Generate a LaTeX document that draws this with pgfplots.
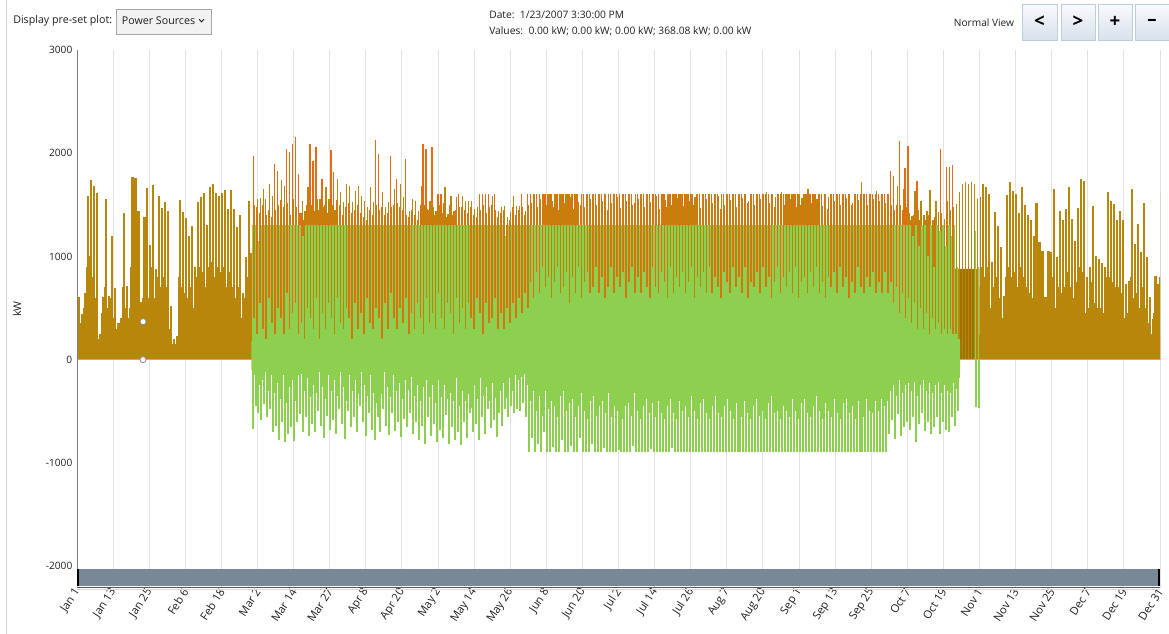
\documentclass[border=0pt]{standalone}
\usepackage{fontspec}
\setmainfont{Open Sans}
\usepackage{pgfplots}
\usepackage{pgfplotstable}
\pgfplotsset{compat=1.18}
\definecolor{brn}{RGB}{184,134,11}
\definecolor{org}{RGB}{234,106,18}
\definecolor{orgb}{RGB}{212,118,14}
\definecolor{grn}{RGB}{141,208,80}
\definecolor{dkb}{RGB}{160,112,0}
\definecolor{gridc}{RGB}{226,226,226}
\definecolor{sbar}{RGB}{120,136,151}
\definecolor{btnb}{RGB}{190,205,222}
\definecolor{txt}{RGB}{30,30,30}

% Winter (Jan-Feb): daily peak B and secondary level B2 (kW)
\pgfplotstableread{
d B B2
0 605 400
1 443 350
2 647 500
3 1582 900
4 1738 1000
5 1683 800
6 1615 600
7 250 200
8 610 450
9 1553 700
10 620 500
11 1200 600
12 690 400
13 350 300
14 400 350
15 1420 700
16 710 500
17 500 400
18 1770 900
19 1760 850
20 1440 700
21 560 400
22 1380 600
23 1660 800
24 1110 600
25 1690 900
26 880 600
27 1590 800
28 1470 700
29 1530 800
30 1440 700
31 520 300
32 200 150
33 230 150
34 1550 800
35 1430 700
36 1370 650
37 1200 600
38 1290 700
39 900 500
40 1530 800
41 1580 900
42 1610 850
43 1300 700
44 1670 900
45 1700 950
46 1615 800
47 1590 900
48 1610 850
49 1640 900
50 1460 700
51 1640 850
52 1460 700
53 1280 600
54 1400 700
55 650 400
56 990 600
57 1540 800
58 1030 600
}\winterA

% Winter (Nov-Dec)
\pgfplotstableread{
d B B2
304 1702 900
305 1670 800
306 1600 900
307 943 500
308 1427 700
309 1298 800
310 1088 600
311 620 400
312 1599 800
313 1718 900
314 1637 800
315 1600 850
316 1420 700
317 1670 900
318 1500 800
319 1400 700
320 1350 650
321 1200 600
322 1520 750
323 1140 600
324 1056 500
325 604 350
326 1050 550
327 1040 600
328 1654 800
329 992 500
330 1440 700
331 1350 650
332 1460 700
333 1670 850
334 1360 700
335 1153 600
336 1470 750
337 1750 900
338 1734 850
339 800 450
340 895 500
341 1492 750
342 1000 550
343 970 500
344 940 500
345 895 450
346 1621 800
347 1540 800
348 1510 750
349 1350 700
350 1440 700
351 1350 650
352 733 400
353 760 450
354 1654 800
355 1120 600
356 1310 650
357 1040 500
358 1515 700
359 992 500
360 610 350
361 394 250
362 814 450
363 730 400
364 1621 800
}\winterB

% Mar-Oct: orange peak O, brown peak B, green positive Gp, green negative Gn (kW)
\pgfplotstableread{
d O B Gp Gn
59 1977 1500 1300 -672
60 1480 1560 1300 -450
61 1420 1570 1150 -520
62 1500 1654 1300 -590
63 1557 1400 1300 -430
64 1450 1702 1300 -560
65 1380 1590 1300 -480
66 1896 1450 1300 -700
67 1831 1500 1300 -640
68 1550 1742 1300 -780
69 1480 1686 1300 -600
70 2041 1520 1300 -800
71 2009 1400 1300 -720
72 2090 1560 1300 -650
73 2154 1480 1300 -790
74 1799 1420 1300 -600
75 1420 1540 1300 -530
76 1350 1444 1200 -700
77 1500 1670 1300 -560
78 2090 1500 1300 -740
79 1928 1440 1300 -620
80 2064 1560 1300 -700
81 1450 1557 1300 -500
82 1750 1480 1300 -640
83 1500 1670 1300 -760
84 1420 1557 1300 -550
85 2032 1500 1300 -680
86 1815 1450 1300 -590
87 1550 1750 1300 -720
88 1500 1621 1300 -480
89 1400 1525 1300 -620
90 1480 1702 1300 -770
91 1520 1686 1300 -500
92 1420 1525 1300 -650
93 1450 1637 1300 -560
94 1500 1686 1300 -700
95 1420 1590 1300 -450
96 1380 1540 1300 -600
97 1350 1476 1300 -740
98 1450 1670 1300 -520
99 1400 1525 1300 -680
100 2132 1500 1300 -780
101 1993 1450 1300 -560
102 1480 1621 1300 -700
103 1400 1476 1300 -480
104 1420 1525 1300 -640
105 1977 1480 1300 -730
106 1500 1654 1300 -520
107 1750 1520 1300 -690
108 1480 1702 1300 -600
109 1450 1573 1300 -750
110 1945 1400 1300 -580
111 1380 1444 1300 -650
112 1450 1557 1300 -520
113 1400 1540 1300 -720
114 1350 1444 1300 -600
115 1500 1686 1300 -780
116 2090 1500 1300 -640
117 2041 1460 1300 -820
118 1450 1540 1300 -560
119 2058 1480 1300 -740
120 1400 1444 1300 -620
121 1605 1500 1300 -800
122 1605 1420 1300 -680
123 1520 1670 1300 -760
124 1380 1412 1300 -540
125 1500 1590 1300 -820
126 1400 1444 1300 -650
127 1450 1573 1300 -780
128 1605 1480 1300 -700
129 1480 1590 1300 -830
130 1450 1540 1300 -600
131 1420 1540 1300 -760
132 1480 1540 1300 -520
133 1400 1460 1300 -700
134 1380 1476 1300 -620
135 1605 1450 1300 -780
136 1605 1500 1300 -560
137 1605 1420 1300 -720
138 1605 1480 1300 -480
139 1500 1590 1300 -660
140 1605 1450 1300 -590
141 1380 1444 1300 -750
142 1420 1476 1300 -520
143 1450 1492 1300 -640
144 1300 1380 1200 -480
145 1350 1428 1300 -560
146 1480 1590 1300 -450
147 1400 1492 1300 -520
148 1450 1492 1300 -480
149 1605 1476 1300 -500
150 1400 1444 1300 -420
151 1605 1500 1300 -560
152 1605 1520 1300 -898
153 1605 1605 1300 -760
154 1605 1480 1300 -898
155 1605 1560 1300 -820
156 1605 1605 1300 -898
157 1605 1500 1300 -700
158 1605 1605 1300 -898
159 1605 1540 1300 -898
160 1480 1605 1300 -850
161 1605 1450 1300 -898
162 1605 1605 1300 -898
163 1605 1520 1300 -780
164 1605 1605 1300 -898
165 1605 1580 1300 -898
166 1605 1460 1300 -840
167 1605 1605 1300 -898
168 1605 1530 1300 -898
169 1500 1605 1300 -760
170 1605 1480 1300 -898
171 1605 1605 1300 -898
172 1605 1560 1300 -898
173 1605 1605 1300 -820
174 1605 1500 1300 -898
175 1605 1605 1300 -898
176 1605 1540 1300 -898
177 1605 1605 1300 -860
178 1450 1605 1300 -898
179 1605 1520 1300 -898
180 1605 1605 1300 -898
181 1605 1580 1300 -898
182 1605 1470 1300 -880
183 1605 1605 1300 -898
184 1605 1540 1300 -898
185 1605 1605 1300 -898
186 1605 1500 1300 -898
187 1520 1605 1300 -840
188 1605 1560 1300 -898
189 1605 1605 1300 -898
190 1605 1480 1300 -898
191 1605 1605 1300 -898
192 1605 1530 1300 -898
193 1605 1605 1300 -870
194 1605 1590 1300 -898
195 1605 1460 1300 -898
196 1605 1605 1300 -898
197 1605 1550 1300 -898
198 1480 1605 1300 -898
199 1605 1500 1300 -898
200 1605 1605 1300 -860
201 1605 1570 1300 -898
202 1605 1605 1300 -898
203 1605 1490 1300 -898
204 1605 1605 1300 -898
205 1605 1540 1300 -898
206 1605 1605 1300 -898
207 1500 1580 1300 -898
208 1605 1605 1300 -898
209 1605 1470 1300 -898
210 1605 1605 1300 -898
211 1605 1560 1300 -898
212 1605 1605 1300 -898
213 1605 1520 1300 -898
214 1605 1605 1300 -898
215 1605 1590 1300 -898
216 1460 1605 1300 -898
217 1605 1500 1300 -898
218 1605 1605 1300 -898
219 1605 1550 1300 -898
220 1605 1605 1300 -898
221 1605 1480 1300 -898
222 1605 1605 1300 -898
223 1605 1570 1300 -898
224 1605 1605 1300 -898
225 1520 1540 1300 -898
226 1605 1605 1300 -898
227 1605 1500 1300 -898
228 1605 1605 1300 -898
229 1605 1560 1300 -898
230 1605 1605 1300 -898
231 1605 1620 1300 -898
232 1605 1520 1300 -898
233 1605 1605 1300 -898
234 1480 1580 1300 -898
235 1605 1605 1300 -898
236 1605 1625 1300 -898
237 1605 1500 1300 -898
238 1605 1605 1300 -898
239 1605 1560 1300 -898
240 1605 1605 1300 -898
241 1605 1480 1300 -898
242 1605 1605 1300 -898
243 1500 1570 1300 -898
244 1605 1605 1300 -898
245 1605 1654 1300 -898
246 1605 1520 1300 -898
247 1605 1605 1300 -898
248 1605 1560 1300 -898
249 1605 1605 1300 -898
250 1605 1490 1300 -898
251 1605 1605 1300 -898
252 1460 1580 1300 -898
253 1605 1605 1300 -898
254 1605 1540 1300 -898
255 1605 1605 1300 -898
256 1605 1500 1300 -898
257 1605 1605 1300 -898
258 1605 1570 1300 -898
259 1605 1605 1300 -898
260 1500 1520 1300 -898
261 1605 1605 1300 -898
262 1605 1550 1300 -898
263 1605 1718 1300 -898
264 1605 1605 1300 -898
265 1605 1500 1300 -898
266 1605 1605 1300 -898
267 1605 1560 1300 -898
268 1605 1631 1300 -898
269 1605 1540 1300 -898
270 1605 1605 1300 -898
271 1605 1520 1300 -898
272 1605 1605 1300 -898
273 1831 1500 1300 -720
274 1783 1450 1300 -590
275 1500 1686 1300 -770
276 2122 1500 1300 -526
277 1450 1650 1300 -736
278 1854 1480 1300 -650
279 2067 1420 1300 -600
280 1350 1395 1300 -680
281 1400 1630 1200 -560
282 1734 1450 1300 -800
283 1350 1540 1100 -620
284 1300 1400 1300 -520
285 1350 1444 1300 -688
286 1400 1640 1000 -600
287 1300 1350 1300 -720
288 1380 1540 900 -650
289 1300 1430 1300 -560
290 2041 1420 1250 -720
291 1300 1363 1300 -600
292 1864 1540 1100 -680
293 1870 1450 1300 -704
294 1889 1480 1200 -560
295 0 1508 1300 -640
296 0 1621 900 -500
297 0 1702 0 0
298 0 1718 0 0
299 0 1700 0 0
300 0 1725 0 0
301 0 1700 0 0
302 0 1560 1250 -462
303 0 1580 900 -470
}\summer

% Green secondary (within-day) levels: positive Gm, negative Gk (kW)
\pgfplotstableread{
d Gm Gk
59 400 -150
60 250 -120
61 550 -250
62 300 -200
63 200 -120
64 600 -300
65 350 -150
66 250 -320
67 500 -230
68 400 -380
69 250 -150
70 650 -420
71 300 -270
72 450 -200
73 550 -400
74 250 -150
75 350 -140
76 200 -300
77 500 -180
78 400 -360
79 300 -250
80 600 -320
81 200 -120
82 450 -270
83 300 -380
84 550 -150
85 400 -300
86 250 -200
87 600 -350
88 350 -120
89 300 -270
90 500 -400
91 400 -150
92 200 -300
93 550 -200
94 300 -330
95 450 -120
96 250 -250
97 600 -350
98 350 -150
99 300 -320
100 500 -420
101 400 -200
102 200 -330
103 550 -120
104 300 -270
105 650 -360
106 400 -150
107 300 -300
108 500 -230
109 350 -380
110 600 -200
111 250 -290
112 450 -170
113 300 -350
114 550 -250
115 400 -400
116 250 -270
117 600 -200
118 350 -360
119 450 -250
120 300 -420
121 650 -200
122 400 -360
123 300 -250
124 550 -380
125 450 -320
126 250 -400
127 600 -180
128 350 -450
129 500 -300
130 300 -400
131 550 -330
132 400 -470
133 300 -250
134 600 -380
135 450 -180
136 250 -350
137 550 -270
138 350 -400
139 400 -230
140 600 -370
141 300 -150
142 450 -300
143 300 -230
144 500 -370
145 350 -180
146 550 -300
147 400 -150
148 600 -200
149 450 -170
150 650 -140
151 500 -250
152 750 -400
153 600 -300
154 850 -500
155 650 -350
156 900 -550
157 700 -300
158 800 -480
159 600 -400
160 750 -450
161 900 -560
162 650 -350
163 700 -300
164 850 -500
165 550 -420
166 800 -380
167 650 -560
168 900 -450
169 600 -320
170 750 -500
171 850 -580
172 650 -400
173 700 -350
174 900 -550
175 650 -450
176 800 -400
177 600 -520
178 700 -320
179 900 -560
180 650 -450
181 800 -500
182 700 -350
183 850 -580
184 600 -450
185 750 -420
186 900 -550
187 650 -320
188 800 -500
189 650 -580
190 850 -450
191 700 -380
192 600 -520
193 900 -420
194 700 -560
195 650 -400
196 850 -520
197 750 -580
198 600 -450
199 900 -380
200 650 -520
201 800 -580
202 700 -400
203 850 -500
204 650 -450
205 750 -560
206 900 -350
207 600 -500
208 800 -580
209 700 -420
210 850 -380
211 650 -520
212 900 -580
213 650 -450
214 800 -350
215 700 -520
216 600 -560
217 850 -450
218 750 -380
219 650 -500
220 900 -580
221 700 -420
222 800 -500
223 650 -560
224 900 -400
225 600 -520
226 750 -580
227 700 -450
228 850 -380
229 650 -550
230 900 -500
231 700 -580
232 800 -420
233 600 -350
234 750 -520
235 900 -500
236 650 -580
237 800 -450
238 700 -500
239 850 -560
240 650 -380
241 900 -500
242 600 -580
243 750 -420
244 800 -380
245 650 -520
246 850 -560
247 700 -450
248 900 -350
249 650 -500
250 750 -580
251 600 -420
252 800 -500
253 700 -560
254 850 -380
255 650 -520
256 900 -580
257 700 -420
258 800 -380
259 600 -520
260 750 -450
261 650 -580
262 900 -400
263 700 -500
264 650 -560
265 800 -380
266 700 -500
267 850 -520
268 650 -400
269 750 -500
270 650 -380
271 850 -450
272 650 -400
273 750 -300
274 550 -250
275 700 -350
276 450 -200
277 650 -320
278 400 -250
279 600 -230
280 350 -300
281 550 -220
282 300 -350
283 500 -250
284 300 -200
285 450 -300
286 250 -230
287 400 -320
288 300 -250
289 350 -220
290 250 -320
291 300 -250
292 250 -300
293 300 -320
294 250 -230
295 250 -280
296 200 -180
}\greenmid

% Solid (dense) levels of the series
\pgfplotstableread{
x y
0 0
0 290
3 290
3.3 240
6.8 240
7.2 90
8.6 90
9 250
31 250
31.4 110
33.6 110
34 260
58.6 260
58.7 850
65 900
72 800
80 900
90 820
100 880
110 800
120 850
135 900
145 880
150 950
155 1000
265 1000
275 950
290 900
296 880
303.3 880
303.4 240
364 240
364 0
}\brownbody

\pgfplotstableread{
x y
58.6 0
58.6 1000
100 1050
150 1100
154 1300
268 1300
275 1100
294.5 1000
294.5 0
}\orangebody

\pgfplotstableread{
x y
296.3 0
296.3 880
302 880
302 0
}\darkblock

\pgfplotstableread{
x y
58.6 0
58.6 180
100 200
150 250
155 500
265 500
275 300
296.8 180
296.8 0
}\greenpos

\pgfplotstableread{
x y
58.6 0
58.6 -100
150 -110
155 -200
265 -200
275 -130
296.8 -100
296.8 0
}\greenneg

\begin{document}
\begin{tikzpicture}[x=1pt,y=1pt]
\path[use as bounding box] (-57.75,-34.5) rectangle (819,441);
\begin{axis}[
  scale only axis, width=812.25pt, height=403.5pt,
  xmin=0, xmax=364, ymin=-2213, ymax=3000,
  axis x line=bottom, axis y line=left,
  axis line style={draw=none},
  major tick length=0pt,
  xmajorgrids=true,
  major grid style={gridc, line width=0.75pt},
  xtick={0,12.1333,24.2667,36.4,48.5333,60.6667,72.8,84.9333,97.0667,109.2,121.3333,133.4667,145.6,157.7333,169.8667,182,194.1333,206.2667,218.4,230.5333,242.6667,254.8,266.9333,279.0667,291.2,303.3333,315.4667,327.6,339.7333,351.8667,364},
  xticklabels={Jan 1,Jan 13,Jan 25,Feb 6,Feb 18,Mar 2,Mar 14,Mar 27,Apr 8,Apr 20,May 2,May 14,May 26,Jun 8,Jun 20,Jul 2,Jul 14,Jul 26,Aug 7,Aug 20,Sep 1,Sep 13,Sep 25,Oct 7,Oct 19,Nov 1,Nov 13,Nov 25,Dec 7,Dec 19,Dec 31},
  xticklabel style={rotate=57, anchor=east, font=\fontsize{8.4}{10}\selectfont, text=txt, xshift=2.5pt, yshift=-1pt},
  ytick={-2000,-1000,0,1000,2000,3000},
  yticklabels={-2000,-1000,0,1000,2000,3000},
  yticklabel style={font=\fontsize{7.6}{9}\selectfont, text=txt},
]
% dense bodies
\addplot[fill=orgb, draw=none] table[x=x,y=y] {\orangebody};
\addplot[fill=brn, draw=none] table[x=x,y=y] {\brownbody};
\addplot[fill=dkb, draw=none] table[x=x,y=y] {\darkblock};
% daily peaks
\addplot[ycomb, draw=org, line width=0.95pt] table[x expr=\thisrow{d}+0.33, y=O] {\summer};
\addplot[ycomb, draw=brn, line width=0.95pt] table[x expr=\thisrow{d}+0.67, y=B] {\summer};
\addplot[ycomb, draw=brn, line width=1.6pt] table[x expr=\thisrow{d}+0.67, y=B] {\winterA};
\addplot[ycomb, draw=brn, line width=0.9pt] table[x expr=\thisrow{d}+0.17, y=B2] {\winterA};
\addplot[ycomb, draw=brn, line width=1.6pt] table[x expr=\thisrow{d}+0.5, y=B] {\winterB};
\addplot[ycomb, draw=brn, line width=0.9pt] table[x expr=\thisrow{d}, y=B2] {\winterB};
% green
\addplot[fill=grn, draw=none] table[x=x,y=y] {\greenpos};
\addplot[fill=grn, draw=none] table[x=x,y=y] {\greenneg};
\addplot[ycomb, draw=grn, line width=1.25pt] table[x expr=\thisrow{d}+0.5, y=Gm] {\greenmid};
\addplot[ycomb, draw=grn, line width=1.05pt] table[x expr=\thisrow{d}+0.5, y=Gk] {\greenmid};
\addplot[ycomb, draw=grn, line width=1.1pt] table[x=d, y=Gp] {\summer};
\addplot[ycomb, draw=grn, line width=1.5pt] table[x=d, y=Gn] {\summer};
\addplot[grn, line width=1.1pt] coordinates {(0,0) (364,0)};
% tooltip markers
\addplot[only marks, mark=*, mark size=2.3pt, mark options={fill=white, draw=black!45, line width=0.6pt}] coordinates {(22.2,368.08) (22.2,0)};
\end{axis}
% axis decorations
\draw[black!50, line width=0.75pt] (0,403.5) -- (0,14.25);
\fill[sbar] (0,1.5) rectangle (812.25,14.25);
\fill[black] (0,1.5) rectangle (1.8,14.25);
\fill[black] (810.45,1.5) rectangle (812.25,14.25);
\draw[black!65, line width=0.75pt] (0,0) -- (812.25,0);
\draw[black!15, line width=0.5pt] (0,-1) -- (812.25,-1);
\node[rotate=90, font=\fontsize{8}{10}\selectfont, text=txt] at (-45,209.25) {kW};
% window edge
\draw[black!18, line width=0.75pt] (-52.5,441) -- (-52.5,-34.5);
% header
\node[anchor=west, font=\fontsize{8}{10}\selectfont, text=txt, inner sep=0pt] at (-48,425.25) {Display pre-set plot:};
\filldraw[fill=black!5, draw=black!35, line width=0.6pt] (29.25,434.25) rectangle (100.5,415.5);
\node[anchor=west, font=\fontsize{8}{10}\selectfont, text=txt, inner sep=0pt] at (33.5,425.25) {Power Sources};
\draw[txt, line width=0.7pt] (91.6,426.6) -- (93.4,424.6) -- (95.2,426.6);
\node[anchor=west, font=\fontsize{7.7}{9}\selectfont, text=txt, inner sep=0pt] at (309,429.75) {Date:\ \ 1/23/2007 3:30:00 PM};
\node[anchor=west, font=\fontsize{7.7}{9}\selectfont, text=txt, inner sep=0pt] at (309,417.75) {Values:\ \ 0.00 kW; 0.00 kW; 0.00 kW; 368.08 kW; 0.00 kW};
\node[anchor=west, font=\fontsize{7.6}{9}\selectfont, text=txt, inner sep=0pt] at (657.5,423.75) {Normal View};
\foreach \xa/\xb/\sym in {708.75/735/{<}, 738/763.5/{>}, 765.75/791.25/{+}, 793.5/819/{\textendash}} {
  \shade[top color=white!70!btnb!30, bottom color=btnb!60] (\xa,438) rectangle (\xb,411);
  \draw[btnb, line width=0.6pt] (\xa,438) rectangle (\xb,411);
  \node[font=\fontsize{14}{14}\selectfont\bfseries, text=black] at ({(\xa+\xb)/2},424.5) {\sym};
}
\end{tikzpicture}
\end{document}
